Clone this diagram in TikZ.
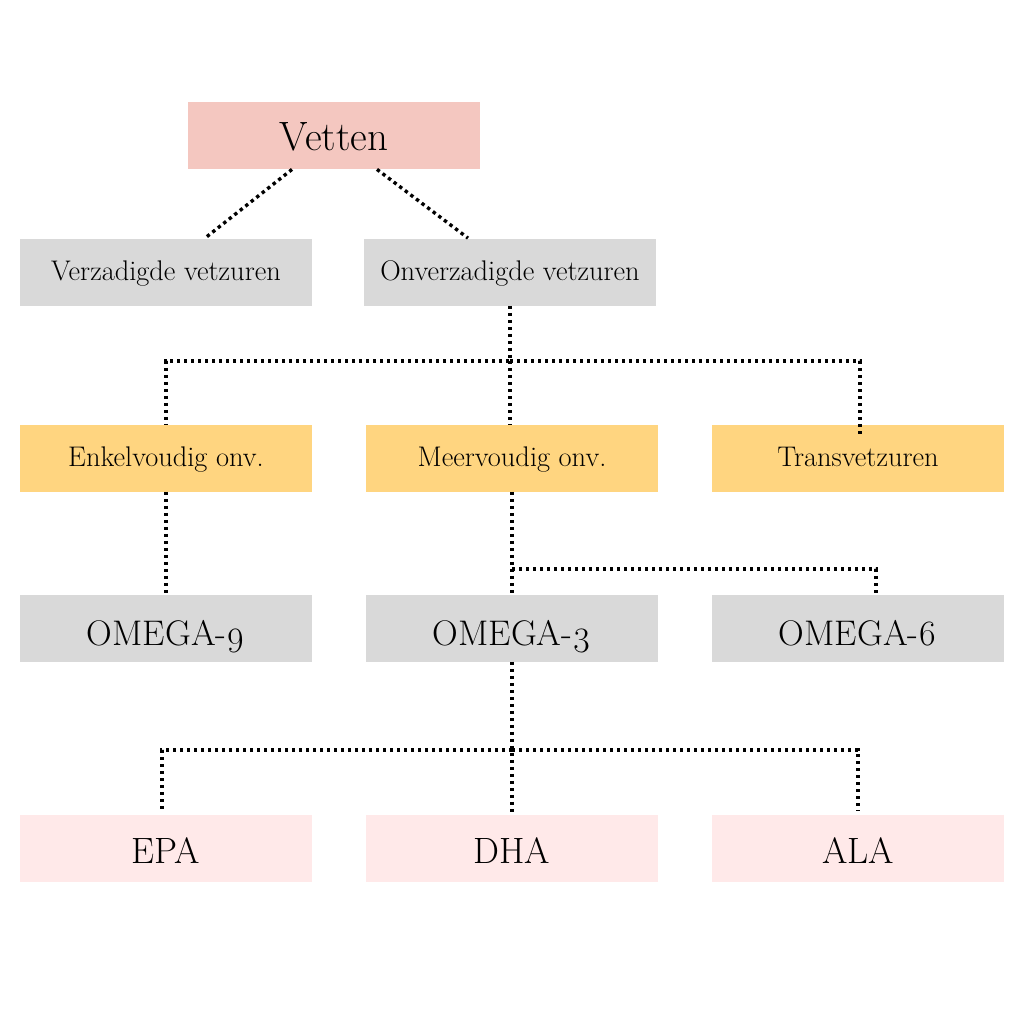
\documentclass[tikz,border=0pt]{standalone}
\usepackage{fontspec}
\setmainfont{Latin Modern Roman}[Numbers=OldStyle]
\usetikzlibrary{positioning}
\definecolor{vetcol}{HTML}{F4C7C0}
\definecolor{graycol}{HTML}{D9D9D9}
\definecolor{oracol}{HTML}{FFD580}
\definecolor{pinkcol}{HTML}{FFE9E9}
\begin{document}
\begin{tikzpicture}[x=0.5pt,y=-0.5pt,
box_style/.style={inner sep=0pt, minimum width=146pt, minimum height=33.5pt},
small_style/.style={box_style, font=\fontsize{14.2}{17}\selectfont, text height=10.5pt, text depth=2pt},
omega_style/.style={box_style, fill=graycol, font=\fontsize{17.8}{21}\selectfont, text height=18pt, text depth=1pt},
acid_style/.style={box_style, fill=pinkcol, font=\fontsize{18.3}{21}\selectfont, text height=16.5pt, text depth=1.1pt},
link_style/.style={line width=1.7pt, dash pattern=on 1.7pt off 1.8pt}]
\useasboundingbox (0,0) rectangle (1024,1024);

% top
\node[box_style, fill=vetcol, font=\fontsize{20.5}{24}\selectfont, text height=16pt, text depth=1.4pt] (vetten) at (334,135.5) {Vetten};
\node[small_style, fill=graycol] (verz) at (166,272) {Verzadigde vetzuren};
\node[small_style, fill=graycol] (onv) at (510,272) {Onverzadigde vetzuren};

% three rows of three
\foreach \x/\y/\t in {166/enk/Enkelvoudig onv.,512/meer/Meervoudig onv.,858/trans/Transvetzuren}{
 \node[small_style, fill=oracol] (\y) at (\x,458) {\t};
}
\foreach \x/\y/\t in {166/om9/OMEGA-9,512/om3/OMEGA-3,858/om6/OMEGA-6}{
 \node[omega_style] (\y) at (\x,628) {\t};
}
\foreach \x/\y/\t in {166/epa/EPA,512/dha/DHA,858/ala/ALA}{
 \node[acid_style] (\y) at (\x,848) {\t};
}

\begin{scope}[link_style]
\draw ([xshift=-21pt]vetten.south) -- ([xshift=19.5pt]verz.north);
\draw ([xshift=21.5pt]vetten.south) -- ([xshift=-21pt]onv.north);

\draw (onv.south) -- (onv.south |- 0,361) -| (enk.north);
\draw (onv.south |- 0,361) -- (onv.south |- meer.north);
\draw (onv.south |- 0,361) -| ([xshift=1pt,yshift=-5.5pt]trans.north);

\draw (enk.south) -- (om9.north);
\draw (meer.south) -- (om3.north);
\draw (meer.south |- 0,569) -| ([xshift=9pt]om6.north);

\draw (om3.south) -- (dha.north);
\draw (om3.south |- 0,750) -| ([xshift=-2pt,yshift=1.5pt]epa.north);
\draw (om3.south |- 0,750) -| ([yshift=1.5pt]ala.north);
\end{scope}
\end{tikzpicture}
\end{document}
